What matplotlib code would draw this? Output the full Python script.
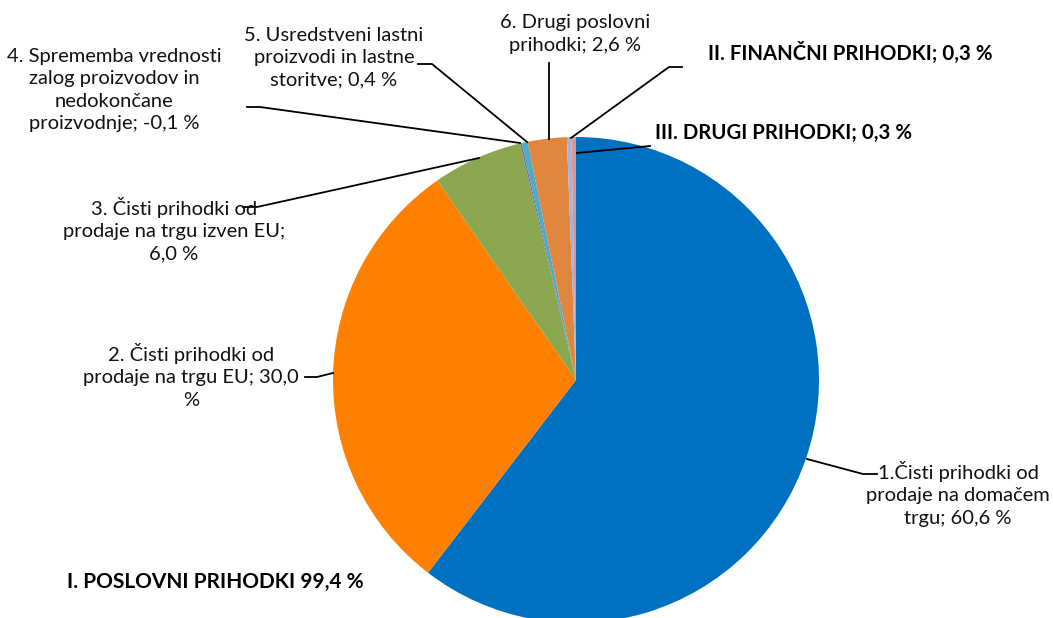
import matplotlib.pyplot as plt
from matplotlib.lines import Line2D

W, H = 1053, 618

# slice data, in the order of the labels
labels = ['1.Čisti prihodki od\nprodaje na domačem\ntrgu; 60,6 %',
          '2. Čisti prihodki od\nprodaje na trgu EU; 30,0\n%',
          '3. Čisti prihodki od\nprodaje na trgu izven EU;\n6,0 %',
          '4. Sprememba vrednosti\nzalog proizvodov in\nnedokončane\nproizvodnje; -0,1 %',
          '5. Usredstveni lastni\nproizvodi in lastne\nstoritve; 0,4 %',
          '6. Drugi poslovni\nprihodki; 2,6 %',
          'II. FINANČNI PRIHODKI; 0,3 %',
          'III. DRUGI PRIHODKI; 0,3 %']
values = [60.6, 30.0, 6.0, -0.1, 0.4, 2.6, 0.3, 0.3]
colors = ['#0070C0', '#FF8000', '#8AA64F', '#8064A2', '#4BACC6', '#E0863F', '#A5B3D9', '#D99694']
total_label = 'I. POSLOVNI PRIHODKI 99,4 %'

plt.rcParams['font.family'] = ['Lato', 'DejaVu Sans']

fig = plt.figure(figsize=(W / 100, H / 100), dpi=100)

# pie: centre (576, 380) px, radius 243 px
cx, cy, r = 576, 380, 243
ax = fig.add_axes([(cx - r) / W, (H - cy - r) / H, 2 * r / W, 2 * r / H])
ax.pie([abs(v) for v in values], colors=colors, startangle=90, counterclock=False,
       wedgeprops=dict(linewidth=0))
ax.set_xlim(-1, 1)
ax.set_ylim(-1, 1)
ax.set_aspect('equal')
ax.axis('off')


def fp(x, y):
    return x / W, 1 - y / H


def leader(pts):
    xs = [p[0] / W for p in pts]
    ys = [1 - p[1] / H for p in pts]
    fig.add_artist(Line2D(xs, ys, color='black', lw=1.3, transform=fig.transFigure))


# label positions (px, top-left origin)
pos = [(958, 494), (191, 376), (174, 230), (114, 90), (334, 58), (575, 34)]
for i in range(6):
    fig.text(*fp(*pos[i]), labels[i], ha='center', va='center', fontsize=14.5,
             linespacing=1.38, color='#111111')
fig.text(*fp(708, 53), labels[6], ha='left', va='center', fontsize=14.7, fontweight='bold')
fig.text(*fp(655, 133), labels[7], ha='left', va='center', fontsize=14.7, fontweight='bold')
fig.text(*fp(67, 582), total_label, ha='left', va='center', fontsize=15, fontweight='bold')

leader([(877, 474), (863, 474), (807, 459)])
leader([(305, 377), (317, 377), (333, 373)])
leader([(243, 207), (257, 207), (479, 158)])
leader([(247, 107), (260, 107), (520, 143)])
leader([(418, 64), (432, 64), (527, 142)])
leader([(549, 63), (549, 139)])
leader([(682, 67), (669, 67), (571, 138)])
leader([(650, 146), (577, 153)])

fig.savefig('out.png', dpi=100)
